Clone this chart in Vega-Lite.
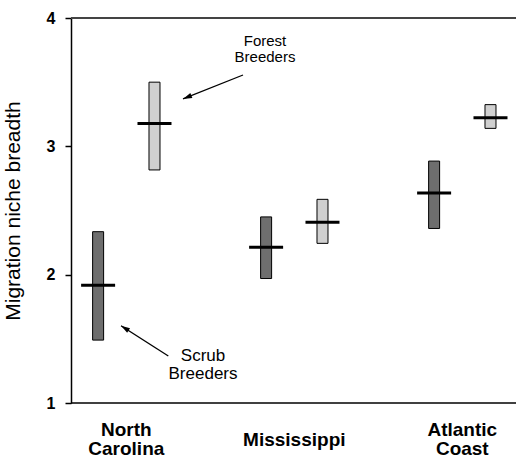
{
  "$schema": "https://vega.github.io/schema/vega-lite/v6.json",
  "width": 445,
  "height": 385,
  "autosize": {"type": "none"},
  "padding": {"left": 71, "top": 18, "right": 0, "bottom": 55},
  "background": "white",
  "config": {"view": {"stroke": null}, "font": "Liberation Sans"},
  "datasets": {
    "bars": [
      {"region": "North Carolina", "group": "Scrub", "low": 1.49, "high": 2.335, "mean": 1.917},
      {"region": "North Carolina", "group": "Forest", "low": 2.816, "high": 3.5, "mean": 3.177},
      {"region": "Mississippi", "group": "Scrub", "low": 1.97, "high": 2.45, "mean": 2.213},
      {"region": "Mississippi", "group": "Forest", "low": 2.244, "high": 2.587, "mean": 2.408},
      {"region": "Atlantic Coast", "group": "Scrub", "low": 2.36, "high": 2.885, "mean": 2.636},
      {"region": "Atlantic Coast", "group": "Forest", "low": 3.14, "high": 3.325, "mean": 3.223}
    ],
    "notes": [
      {"note": "Forest", "label": "Forest\nBreeders", "u": 1.8256, "v": 3.875},
      {"note": "Scrub", "label": "Scrub\nBreeders", "u": 1.4565, "v": 1.4285}
    ],
    "arrows": [
      {"note": "Forest", "part": "tail", "u": 1.6946, "v": 3.556},
      {"note": "Forest", "part": "head", "u": 1.3375, "v": 3.369},
      {"note": "Scrub", "part": "tail", "u": 1.25, "v": 1.366},
      {"note": "Scrub", "part": "head", "u": 0.9685, "v": 1.602}
    ]
  },
  "resolve": {"scale": {"x": "independent"}},
  "layer": [
    {
      "data": {"values": [{}]},
      "mark": {"type": "rule", "color": "#444", "strokeWidth": 2},
      "encoding": {"y": {"datum": 4, "type": "quantitative", "scale": {"domain": [1, 4], "nice": false, "zero": false}}}
    },
    {
      "data": {"values": [{}]},
      "mark": {"type": "rule", "color": "#000", "strokeWidth": 1.5},
      "encoding": {"y": {"datum": 1, "type": "quantitative", "scale": {"domain": [1, 4], "nice": false, "zero": false}}}
    },
    {
      "layer": [
        {
          "data": {"name": "bars"},
          "mark": {"type": "bar", "width": 11, "stroke": "#000", "strokeWidth": 1},
          "encoding": {
            "x": {
              "field": "region", "type": "nominal",
              "scale": {"domain": ["North Carolina", "Mississippi", "Atlantic Coast"], "range": [-28.7, 475.3], "paddingInner": 0, "paddingOuter": 0},
              "axis": {
                "title": null, "domain": false, "ticks": false, "tickSize": 0,
                "labelPadding": {"condition": {"test": "datum.label == 'Mississippi'", "value": 36}, "value": 26},
                "labelFontSize": 19, "labelFontWeight": "bold", "labelColor": "#000",
                "labelAngle": 0, "labelBaseline": "middle", "labelLineHeight": 19,
                "labelExpr": "datum.label == 'Mississippi' ? datum.label : split(datum.label, ' ')",
                "labelOverlap": false, "labelBound": false
              }
            },
            "xOffset": {"field": "group", "type": "nominal", "scale": {"domain": ["Scrub", "Forest"], "paddingInner": 0, "paddingOuter": 0.49}},
            "y": {
              "field": "low", "type": "quantitative", "title": "Migration niche breadth",
              "scale": {"domain": [1, 4], "nice": false, "zero": false},
              "axis": {
                "values": [1, 2, 3, 4], "format": "d", "grid": false,
                "domainColor": "#000", "domainWidth": 1.5,
                "tickColor": "#000", "tickSize": 6, "tickWidth": 1.5,
                "labelFontSize": 16, "labelFontWeight": "bold", "labelColor": "#000", "labelPadding": 10, "labelFlush": false,
                "titleFontSize": 21, "titleFontWeight": "normal", "titleColor": "#000", "titlePadding": 23
              }
            },
            "y2": {"field": "high"},
            "fill": {"field": "group", "type": "nominal", "scale": {"domain": ["Scrub", "Forest"], "range": ["#6e6e6e", "#d0d0d0"]}, "legend": null}
          }
        },
        {
          "data": {"name": "bars"},
          "mark": {"type": "tick", "size": 34, "thickness": 3, "color": "#000", "opacity": 1},
          "encoding": {
            "x": {"field": "region", "type": "nominal"},
            "xOffset": {"field": "group", "type": "nominal"},
            "y": {"field": "mean", "type": "quantitative", "title": "Migration niche breadth"}
          }
        }
      ]
    },
    {
      "layer": [
        {
          "data": {"name": "notes"},
          "transform": [{"filter": "datum.note == 'Forest'"}],
          "mark": {"type": "text", "fontSize": 15, "lineHeight": 16, "lineBreak": "\n", "align": "center", "baseline": "top", "color": "#000"},
          "encoding": {
            "x": {"field": "u", "type": "quantitative", "scale": {"domain": [0.6708, 3.3196], "nice": false, "zero": false}, "axis": null},
            "y": {"field": "v", "type": "quantitative", "title": "Migration niche breadth"},
            "text": {"field": "label"}
          }
        },
        {
          "data": {"name": "notes"},
          "transform": [{"filter": "datum.note == 'Scrub'"}],
          "mark": {"type": "text", "fontSize": 17, "lineHeight": 18, "lineBreak": "\n", "align": "center", "baseline": "top", "color": "#000"},
          "encoding": {
            "x": {"field": "u", "type": "quantitative"},
            "y": {"field": "v", "type": "quantitative", "title": "Migration niche breadth"},
            "text": {"field": "label"}
          }
        },
        {
          "data": {"name": "arrows"},
          "mark": {"type": "line", "color": "#000", "strokeWidth": 1.3},
          "encoding": {
            "x": {"field": "u", "type": "quantitative"},
            "y": {"field": "v", "type": "quantitative", "title": "Migration niche breadth"},
            "detail": {"field": "note"}
          }
        },
        {
          "data": {"name": "arrows"},
          "transform": [{"filter": "datum.note == 'Forest' && datum.part == 'head'"}],
          "mark": {"type": "point", "shape": "M0,0L-0.6,2L0.6,2Z", "size": 81, "filled": true, "color": "#000", "opacity": 1, "strokeWidth": 0, "angle": 248},
          "encoding": {
            "x": {"field": "u", "type": "quantitative"},
            "y": {"field": "v", "type": "quantitative", "title": "Migration niche breadth"}
          }
        },
        {
          "data": {"name": "arrows"},
          "transform": [{"filter": "datum.note == 'Scrub' && datum.part == 'head'"}],
          "mark": {"type": "point", "shape": "M0,0L-0.6,2L0.6,2Z", "size": 81, "filled": true, "color": "#000", "opacity": 1, "strokeWidth": 0, "angle": 302.6},
          "encoding": {
            "x": {"field": "u", "type": "quantitative"},
            "y": {"field": "v", "type": "quantitative", "title": "Migration niche breadth"}
          }
        }
      ]
    }
  ]
}
